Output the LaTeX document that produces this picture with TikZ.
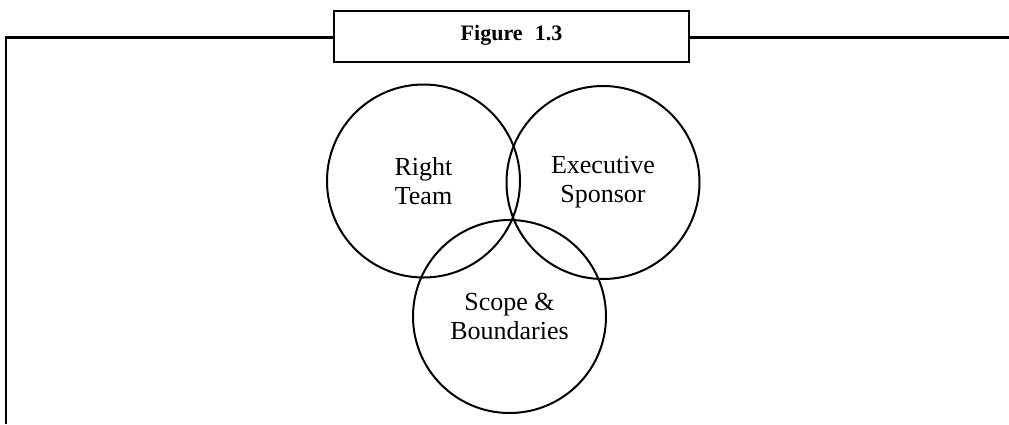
\documentclass[tikz,border=0pt]{standalone}
\usepackage{fontspec}
\setmainfont{Liberation Serif}
\begin{document}
\begin{tikzpicture}[x=1pt,y=-1pt,
  frame/.style={line width=2.7pt},
  titlebox/.style={draw,line width=2.5pt,minimum width=355pt,minimum height=51pt,inner sep=0pt},
  ring/.style={circle,draw,line width=2pt,minimum size=193pt,inner sep=0pt,align=center,
    font=\fontsize{26}{29}\selectfont}]
\useasboundingbox (0,0) rectangle (1009,424);
\node[titlebox] (title) at (511.5,36.5) {};
\node[anchor=base,font=\fontsize{22}{26}\selectfont\bfseries] (titletext) at (511.5,40.5) {Figure\hspace{0.3em} 1.3};
\coordinate (corner) at (6,37.5);
\coordinate (bl) at (6,424);
\coordinate (rend) at (1009,37.5);
\draw[frame] (bl) -- (corner) -- (corner -| title.west);
\draw[frame] (rend -| title.east) -- (rend);
\node[ring] (team) at (423.5,181) {Right\\Team};
\node[ring] (sponsor) at (603,182.5) {Executive\\Sponsor};
\node[ring] (scope) at (509.5,316.5) {Scope \&\\Boundaries};
\end{tikzpicture}
\end{document}
